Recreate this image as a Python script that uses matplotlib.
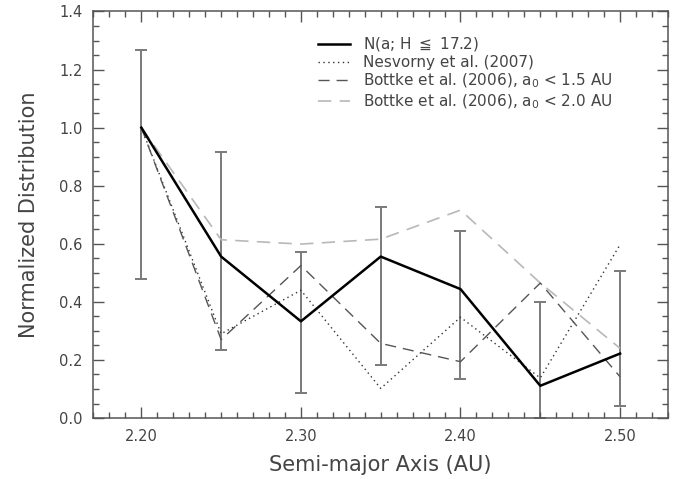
import matplotlib
matplotlib.use('Agg')
import matplotlib.pyplot as plt
from matplotlib.ticker import MultipleLocator
import numpy as np

# semi-major axis bins (AU)
a_bins = [2.20, 2.25, 2.30, 2.35, 2.40, 2.45, 2.50]
# observed normalized distribution N(a; H <= 17.2) with error bars
n_obs = [1.0, 0.556, 0.333, 0.556, 0.444, 0.111, 0.222]
err_lo = [0.478, 0.234, 0.087, 0.183, 0.134, 0.0, 0.042]
err_hi = [1.266, 0.915, 0.572, 0.726, 0.645, 0.40, 0.505]
# model predictions
nesvorny = [1.0, 0.29, 0.44, 0.102, 0.347, 0.138, 0.597]
bottke_15 = [1.0, 0.27, 0.525, 0.257, 0.194, 0.465, 0.142]
bottke_20 = [1.0, 0.614, 0.599, 0.616, 0.716, 0.465, 0.24]

fig = plt.figure(figsize=(6.74, 4.79), dpi=100)
ax = fig.add_axes([0.1387, 0.1273, 0.8523, 0.8487])

txt = '#444444'
lo = np.array(n_obs) - np.array(err_lo)
hi = np.array(err_hi) - np.array(n_obs)
ax.errorbar(a_bins, n_obs, yerr=[lo, hi], fmt='none', ecolor='#7a7a7a',
            elinewidth=1.4, capsize=4, capthick=1.4, zorder=1)
ax.plot(a_bins, n_obs, color='black', lw=1.8, label=r'N(a; H $\leqq$ 17.2)', zorder=4)
ax.plot(a_bins, nesvorny, color='#333333', lw=1.0, ls=(0, (1, 2.5)),
        label='Nesvorny et al. (2007)', zorder=3)
ax.plot(a_bins, bottke_15, color='#555555', lw=1.0, ls=(0, (8, 5)),
        label=r'Bottke et al. (2006), $\mathrm{a}_0$ < 1.5 AU', zorder=3)
ax.plot(a_bins, bottke_20, color='#b8b8b8', lw=1.2, ls=(0, (8, 5)),
        label=r'Bottke et al. (2006), $\mathrm{a}_0$ < 2.0 AU', zorder=2)

ax.set_xlim(2.17, 2.53)
ax.set_ylim(0, 1.4)
ax.xaxis.set_major_locator(MultipleLocator(0.1))
ax.xaxis.set_minor_locator(MultipleLocator(0.01))
ax.yaxis.set_major_locator(MultipleLocator(0.2))
ax.yaxis.set_minor_locator(MultipleLocator(0.05))
ax.set_xticks([2.2, 2.3, 2.4, 2.5])
ax.set_xticklabels(['2.20', '2.30', '2.40', '2.50'])
ax.set_yticks(np.arange(0, 1.41, 0.2))
ax.set_yticklabels(['%.1f' % v for v in np.arange(0, 1.41, 0.2)])
ax.tick_params(which='both', direction='in', top=True, right=True,
               color='#555555', labelcolor=txt, labelsize=10.5)
ax.tick_params(which='major', length=8, width=1, pad=8)
ax.tick_params(which='minor', length=4, width=1)
for s in ax.spines.values():
    s.set_color('#555555')
    s.set_linewidth(1.1)

ax.set_xlabel('Semi-major Axis (AU)', fontsize=15, color=txt, labelpad=8)
ax.set_ylabel('Normalized Distribution', fontsize=15, color=txt, labelpad=14)

leg = ax.legend(loc='upper left', bbox_to_anchor=(0.367, 0.975), frameon=False,
                fontsize=11, handlelength=2.1, handletextpad=0.85,
                labelspacing=0.12)
for t in leg.get_texts():
    t.set_color(txt)

fig.savefig('out.png', dpi=100)
